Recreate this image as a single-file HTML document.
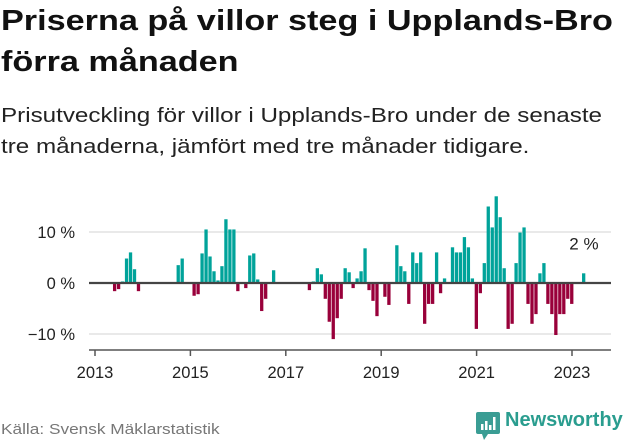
<!DOCTYPE html>
<html><head><meta charset="utf-8"><style>
body{margin:0;width:631px;height:439px;background:#fff;font-family:"Liberation Sans",sans-serif;overflow:hidden;position:relative;color:#111}
#title{position:absolute;left:1px;top:1px;font-size:28.5px;font-weight:bold;line-height:41px;margin:0;transform-origin:0 0;transform:scaleX(1.2);white-space:nowrap}
#sub{position:absolute;left:1px;top:100px;font-size:20.5px;line-height:31px;margin:0;color:#222;transform-origin:0 0;transform:scaleX(1.18);white-space:nowrap}
#src{position:absolute;left:1px;top:421px;font-size:15px;color:#777;transform-origin:0 0;transform:scaleX(1.15);white-space:nowrap}
#logo{position:absolute;left:476px;top:407px;font-size:20px;color:#2a9d8f;font-weight:bold;white-space:nowrap}
svg{position:absolute;left:0;top:0}
</style></head><body>
<h1 id="title">Priserna på villor steg i Upplands-Bro<br>förra månaden</h1>
<p id="sub">Prisutveckling för villor i Upplands-Bro under de senaste<br>tre månaderna, jämfört med tre månader tidigare.</p>
<svg id="chart" width="631" height="439"></svg>
<div id="src">Källa: Svensk Mäklarstatistik</div>
<div id="logo"><svg width="24" height="28" viewBox="0 0 24 28" style="position:relative;left:0;top:5px;display:inline-block;vertical-align:-6px;margin-right:5px"><rect x="0" y="0" width="24" height="22" rx="2" fill="#3a9d94"/><polygon points="6,22 12,22 8,28" fill="#3a9d94"/><rect x="5" y="12" width="2.5" height="6" fill="#fff"/><rect x="9" y="9" width="2.5" height="9" fill="#fff"/><rect x="13" y="13" width="2.5" height="5" fill="#fff"/><rect x="17" y="5" width="2.5" height="13" fill="#fff"/></svg><span style="position:relative;top:-3px">Newsworthy</span></div>
<script>
const monthIndex=[5,6,7,8,9,10,11,21,22,25,26,27,28,29,30,31,32,33,34,35,36,38,39,40,41,42,43,45,54,55,56,57,58,59,60,61,62,63,64,65,66,67,68,69,70,71,73,74,76,77,78,79,80,81,82,83,84,85,86,87,88,90,91,92,93,94,95,96,97,98,99,100,101,102,103,104,105,106,107,108,109,110,111,112,113,114,115,116,117,118,119,120,123];
const change=[-1.6,-1.2,0.3,4.8,6.0,2.7,-1.6,3.5,4.8,-2.5,-2.2,5.8,10.5,5.2,2.3,0.5,3.3,12.5,10.5,10.5,-1.6,-1.0,5.4,5.8,0.7,-5.5,-3.1,2.5,-1.4,0.3,2.9,1.7,-3.1,-7.6,-11,-6.9,-3.1,2.9,2.1,-1.0,0.9,2.3,6.8,-1.4,-3.5,-6.5,-2.7,-4.3,7.4,3.3,2.3,-4.1,6.0,3.9,6.0,-8.0,-4.1,-4.1,6.0,-2.0,0.9,7.0,6.0,6.0,9.0,7.0,0.9,-9.0,-2.0,3.9,15.0,10.9,17.0,12.9,2.9,-9.0,-8.0,3.9,9.9,10.9,-4.1,-8.0,-6.1,1.9,3.9,-4.1,-6.1,-10.2,-6.1,-6.1,-3.1,-4.1,1.9];
const yTicks=[10,0,-10];
const yTickLabels=["10 %","0 %","−10 %"];
const xYears=[2013,2015,2017,2019,2021,2023];
const lastLabel="2 %";
const NS="http://www.w3.org/2000/svg";
const svg=document.getElementById('chart');
const x=m=>95+m*3.975;
const y=v=>283-v*5.1;
function mk(t,a){const e=document.createElementNS(NS,t);for(const k in a)e.setAttribute(k,a[k]);svg.appendChild(e);return e;}
yTicks.forEach((t,i)=>{
 if(t!==0){const g=mk('line',{x1:89,x2:611,y1:y(t),y2:y(t),stroke:'#e2e2e2','stroke-width':1.5});
 
 }
 const l=mk('text',{x:75,y:y(t)+6,'text-anchor':'end','font-size':16.5,fill:'#222','font-family':'Liberation Sans, sans-serif'});
 l.textContent=yTickLabels[i];
 
 
});
monthIndex.forEach((m,i)=>{
 const v=change[i];
 const r=mk('rect',{x:x(m)-1.9,width:3.3,y:Math.min(y(v),y(0)),height:Math.abs(y(v)-y(0)),fill:v>=0?'#00a39a':'#99003a'});
 
 
});
const z=mk('line',{x1:89,x2:611,y1:y(0),y2:y(0),stroke:'#444','stroke-width':2.2});


const ax=mk('line',{x1:89,x2:611,y1:350,y2:350,stroke:'#555','stroke-width':1.5});


xYears.forEach(yr=>{
 const xx=x((yr-2013)*12);
 const t=mk('line',{x1:xx,x2:xx,y1:350,y2:356,stroke:'#555','stroke-width':1.5});
 
 
 const l=mk('text',{x:xx,y:378,'text-anchor':'middle','font-size':16.5,fill:'#222','font-family':'Liberation Sans, sans-serif'});
 l.textContent=yr;
 
 
});
const lm=monthIndex[monthIndex.length-1];
const ll=mk('text',{x:x(lm),y:y(change[change.length-1])-24,'text-anchor':'middle','font-size':17,fill:'#222','font-family':'Liberation Sans, sans-serif'});
ll.textContent=lastLabel;


</script>
</body></html>
